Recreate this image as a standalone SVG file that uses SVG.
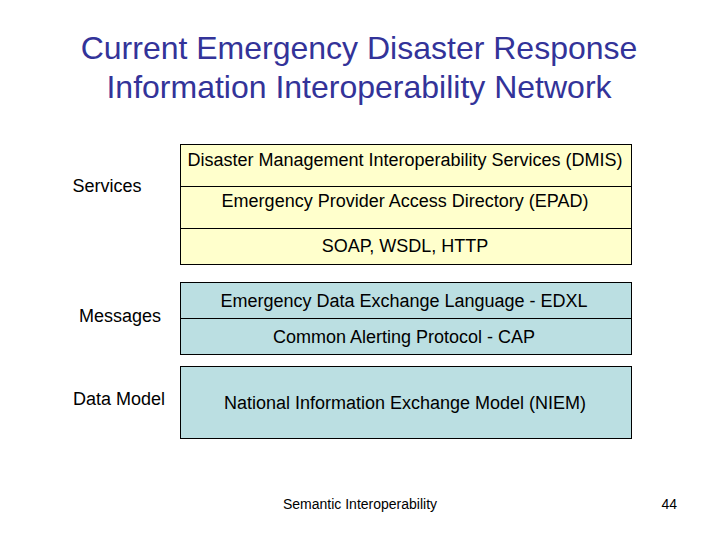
<svg xmlns="http://www.w3.org/2000/svg" width="720" height="540" viewBox="0 0 720 540">
<style>
text{font-family:"Liberation Sans",Arial,sans-serif;fill:#000}
.t{fill:#333399;font-size:32px}
.y{fill:#ffffcc;stroke:#000;stroke-width:1}
.b{fill:#bbdfe2;stroke:#000;stroke-width:1}
.l{font-size:18px}
.s{font-size:14px}
</style>
<rect width="720" height="540" fill="#fff"/>
<text class="t" x="359" y="59" text-anchor="middle">Current Emergency Disaster Response</text>
<text class="t" x="359" y="98" text-anchor="middle">Information Interoperability Network</text>
<g id="labels">
<text x="107" y="192" text-anchor="middle" class="l">Services</text>
<text x="120" y="322" text-anchor="middle" class="l">Messages</text>
<text x="119" y="405" text-anchor="middle" class="l">Data Model</text>
</g>
<g id="dmis"><rect class="y" x="180.5" y="144.5" width="451" height="42"/><text class="l" x="405" y="166" text-anchor="middle">Disaster Management Interoperability Services (DMIS)</text></g>
<g id="epad"><rect class="y" x="180.5" y="186.5" width="451" height="42"/><text class="l" x="405" y="207" text-anchor="middle">Emergency Provider Access Directory (EPAD)</text></g>
<g id="soap"><rect class="y" x="180.5" y="228.5" width="451" height="36"/><text class="l" x="405" y="252" text-anchor="middle">SOAP, WSDL, HTTP</text></g>
<g id="edxl"><rect class="b" x="180.5" y="282.5" width="451" height="36"/><text class="l" x="404" y="307" text-anchor="middle">Emergency Data Exchange Language - EDXL</text></g>
<g id="cap"><rect class="b" x="180.5" y="318.5" width="451" height="36"/><text class="l" x="404" y="343" text-anchor="middle">Common Alerting Protocol - CAP</text></g>
<g id="niem"><rect class="b" x="180.5" y="366.5" width="451" height="72"/><text class="l" x="405" y="409" text-anchor="middle">National Information Exchange Model (NIEM)</text></g>
<g id="connectors"/>
<text class="s" x="360" y="509" text-anchor="middle">Semantic Interoperability</text>
<text class="s" x="677" y="509" text-anchor="end">44</text>
</svg>
